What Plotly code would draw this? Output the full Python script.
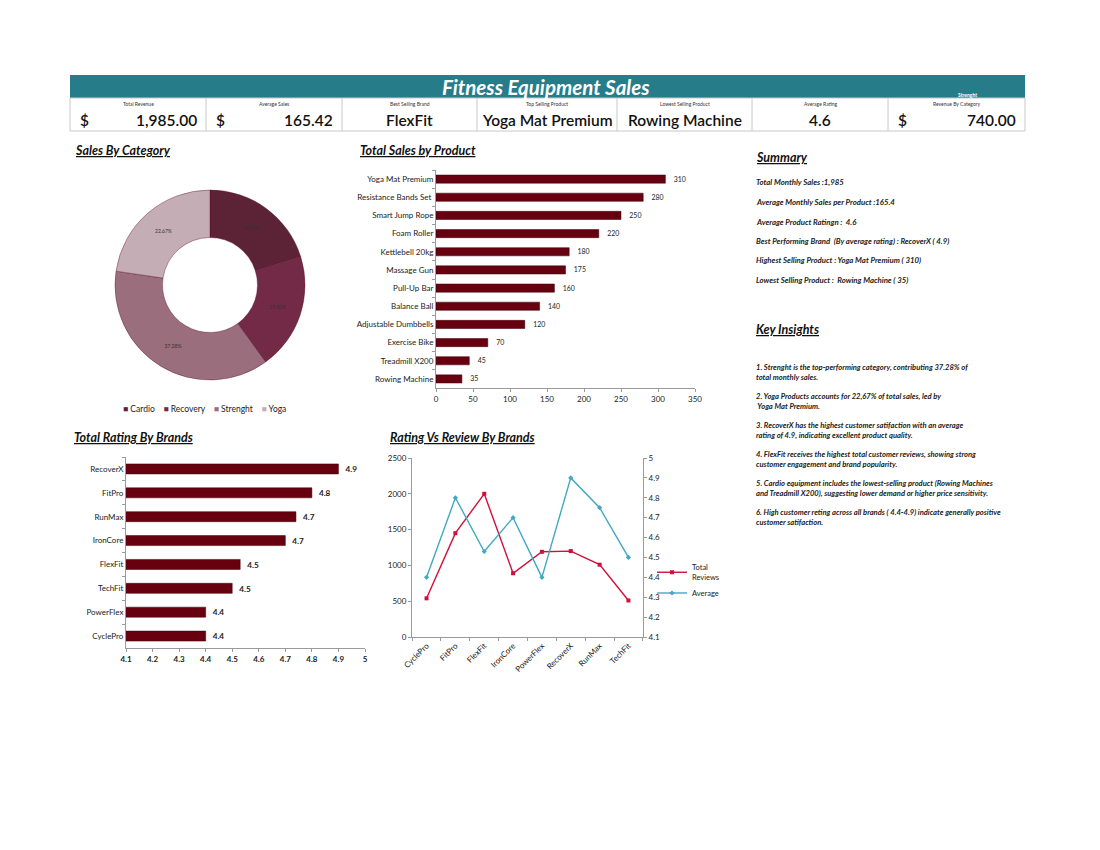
import plotly.graph_objects as go

# ---------------- data ----------------
kpi_labels = ["Total Revenue", "Average Sales", "Best Selling Brand", "Top Selling Product",
              "Lowest Selling Product", "Average Rating", "Revenue By Category"]
kpi_values = ["1,985.00", "165.42", "FlexFit", "Yoga Mat Premium", "Rowing Machine", "4.6", "740.00"]
kpi_dollar = [True, True, False, False, False, False, True]

categories = ["Cardio", "Recovery", "Strenght", "Yoga"]
category_sales = [400, 395, 740, 450]

products = ["Yoga Mat Premium", "Resistance Bands Set ", "Smart Jump Rope", "Foam Roller",
            "Kettlebell 20kg", "Massage Gun", "Pull-Up Bar", "Balance Ball",
            "Adjustable Dumbbells", "Exercise Bike", "Treadmill X200", "Rowing Machine"]
product_sales = [310, 280, 250, 220, 180, 175, 160, 140, 120, 70, 45, 35]

rating_brands = ["RecoverX", "FitPro", "RunMax", "IronCore", "FlexFit", "TechFit", "PowerFlex", "CyclePro"]
rating_values = [4.9, 4.8, 4.74, 4.7, 4.53, 4.5, 4.4, 4.4]

rating_ticks = [4.1, 4.2, 4.3, 4.4, 4.5, 4.6, 4.7, 4.8, 4.9, 5.0]
rating_ticktext = ["4.1", "4.2", "4.3", "4.4", "4.5", "4.6", "4.7", "4.8", "4.9", "5"]

line_brands = ["CyclePro", "FitPro", "FlexFit", "IronCore", "PowerFlex", "RecoverX", "RunMax", "TechFit"]
total_reviews = [540, 1450, 2000, 890, 1190, 1200, 1010, 510]
avg_rating = [4.4, 4.8, 4.53, 4.7, 4.4, 4.9, 4.75, 4.5]

summary_lines = [
    "Total Monthly Sales :1,985",
    "Average Monthly Sales per Product :165.4",
    "Average Product Ratingn :  4.6",
    "Best Performing Brand  (By average rating) : RecoverX ( 4.9)",
    "Highest Selling Product : Yoga Mat Premium ( 310)",
    "Lowest Selling Product :  Rowing Machine ( 35)",
]
insights = [
    "1. Strenght is the top-performing category, contributing 37.28% of<br>total monthly sales.",
    "2. Yoga Products accounts for 22,67% of total sales, led by<br> Yoga Mat Premium.",
    "3. RecoverX has the highest customer satifaction with an average<br>rating of 4.9, indicating excellent product quality.",
    "4. FlexFit receives the highest total customer reviews, showing strong<br>customer engagement and brand popularity.",
    "5. Cardio equipment includes the lowest-selling product (Rowing Machines<br>and Treadmill X200), suggesting lower demand or higher price sensitivity.",
    "6. High customer reting across all brands ( 4.4-4.9) indicate generally positive<br>customer satifaction.",
]

# ---------------- style ----------------
W, H = 1100, 850
FONT = "Lato, 'Open Sans', sans-serif"
TEAL = "#267c89"
MAROON = "#67000f"
PIE_COLORS = ["#5c2236", "#722a46", "#9a6e7c", "#c5adb6"]
RED = "#d0103a"
BLUE = "#40a9bf"
AX = "#9a9a9a"
TXT = "#222222"


def px(x):
    return x / W


def py(y):
    return 1 - y / H


fig = go.Figure()

# donut
fig.add_trace(go.Pie(
    labels=categories, values=category_sales, hole=0.5, sort=False,
    direction="clockwise", rotation=0,
    marker=dict(colors=PIE_COLORS, line=dict(color="#5a0a1e", width=0.4)),
    texttemplate="%{percent:.2%}", textposition="inside",
    insidetextorientation="horizontal",
    textfont=dict(size=5, color="#333"),
    domain=dict(x=[px(115), px(305)], y=[py(380), py(190)]),
    showlegend=False,
))

# product bars
fig.add_trace(go.Bar(
    y=products, x=product_sales, orientation="h", width=0.45,
    marker=dict(color=MAROON, line=dict(color="#3a0008", width=0.5)),
    texttemplate="\u00a0\u00a0\u00a0%{x}", textposition="outside",
    textfont=dict(size=8.5, color=TXT), cliponaxis=False,
    xaxis="x", yaxis="y", showlegend=False,
))

# rating bars
fig.add_trace(go.Bar(
    y=rating_brands, x=rating_values, orientation="h", width=0.42,
    marker=dict(color=MAROON, line=dict(color="#3a0008", width=0.5)),
    texttemplate="\u00a0\u00a0%{x:.1f}", textposition="outside",
    textfont=dict(size=9, color=TXT, weight="bold"), cliponaxis=False,
    xaxis="x2", yaxis="y2", showlegend=False,
))

# line chart
fig.add_trace(go.Scatter(
    x=line_brands, y=total_reviews, mode="lines+markers", name="Total<br>Reviews",
    line=dict(color=RED, width=1.4), marker=dict(symbol="square", size=4, color=RED),
    xaxis="x3", yaxis="y3",
))
fig.add_trace(go.Scatter(
    x=line_brands, y=avg_rating, mode="lines+markers", name="Average",
    line=dict(color=BLUE, width=1.4), marker=dict(symbol="diamond", size=4, color=BLUE),
    xaxis="x3", yaxis="y4",
))

axis_common = dict(showgrid=False, zeroline=False, showline=True, linecolor=AX, linewidth=1,
                   ticks="outside", tickcolor=AX, ticklen=3, tickfont=dict(size=8, color=TXT),
                   automargin=False)

fig.update_layout(
    width=W, height=H, margin=dict(l=0, r=0, t=0, b=0, pad=0, autoexpand=False),
    paper_bgcolor="white", plot_bgcolor="white",
    font=dict(family=FONT, color=TXT),
    xaxis=dict(domain=[px(436), px(695)], anchor="y", range=[0, 350], dtick=50, **axis_common),
    yaxis=dict(domain=[py(388), py(170)], anchor="x", autorange="reversed",
               tickson="boundaries", **axis_common),
    xaxis2=dict(domain=[px(126), px(365)], anchor="y2", range=[4.1, 5],
                tickvals=rating_ticks, ticktext=rating_ticktext, **axis_common),
    yaxis2=dict(domain=[py(648), py(457)], anchor="x2", autorange="reversed",
                tickson="boundaries", **axis_common),
    xaxis3=dict(domain=[px(412), px(643)], anchor="y3", tickangle=-45, tickson="boundaries",
                **axis_common),
    yaxis3=dict(domain=[py(637), py(458)], anchor="x3", range=[0, 2500], dtick=500, **axis_common),
    yaxis4=dict(overlaying="y3", side="right", anchor="x3", range=[4.1, 5],
                tickvals=rating_ticks, ticktext=rating_ticktext, **axis_common),
    legend=dict(x=px(652), y=py(556), xanchor="left", yanchor="top",
                font=dict(size=7.5, color=TXT), bgcolor="rgba(0,0,0,0)",
                tracegroupgap=6, itemwidth=30),
)
fig.update_xaxes(selector=dict(anchor="y2"), tickfont=dict(size=8, color=TXT, weight="bold"))

shapes = []
annotations = []

# header bar
shapes.append(dict(type="rect", xref="paper", yref="paper", x0=px(70), x1=px(1025),
                   y0=py(98), y1=py(75), fillcolor=TEAL, line=dict(width=0)))
annotations.append(dict(x=px(546), y=py(87), xref="paper", yref="paper", showarrow=False,
                        text="<b><i>Fitness Equipment Sales</i></b>",
                        font=dict(size=20.5, color="white", family=FONT), xanchor="center", yanchor="middle"))
annotations.append(dict(x=px(967), y=py(95.5), xref="paper", yref="paper", showarrow=False,
                        text="<b>Strenght</b>", font=dict(size=5, color="white", family=FONT),
                        xanchor="center", yanchor="middle"))

# KPI row
edges = [70, 206, 342, 477, 617, 752, 888, 1025]
shapes.append(dict(type="rect", xref="paper", yref="paper", x0=px(70), x1=px(1025),
                   y0=py(131), y1=py(98), fillcolor="rgba(0,0,0,0)", line=dict(color="#c8c8c8", width=1)))
for e in edges[1:-1]:
    shapes.append(dict(type="line", xref="paper", yref="paper", x0=px(e), x1=px(e),
                       y0=py(131), y1=py(98), line=dict(color="#c8c8c8", width=1)))
KF = dict(size=15.5, color="#111", family=FONT, weight=600)
for i, (lab, val, dol) in enumerate(zip(kpi_labels, kpi_values, kpi_dollar)):
    x0, x1 = edges[i], edges[i + 1]
    cx = (x0 + x1) / 2
    annotations.append(dict(x=px(cx), y=py(104), xref="paper", yref="paper", showarrow=False,
                            text=lab, font=dict(size=5, color="#333", family=FONT),
                            xanchor="center", yanchor="middle"))
    if dol:
        annotations.append(dict(x=px(x0 + 8), y=py(120), xref="paper", yref="paper", showarrow=False,
                                text="$", font=KF, xanchor="left", yanchor="middle"))
        annotations.append(dict(x=px(x1 - 7), y=py(120), xref="paper", yref="paper", showarrow=False,
                                text=val, font=KF, xanchor="right", yanchor="middle"))
    else:
        annotations.append(dict(x=px(cx), y=py(120), xref="paper", yref="paper", showarrow=False,
                                text=val, font=KF, xanchor="center", yanchor="middle"))

# section titles
def title(x, y, t):
    annotations.append(dict(x=px(x), y=py(y), xref="paper", yref="paper", showarrow=False,
                            text=f"<b><i><u>{t}</u></i></b>", font=dict(size=12.5, color="#111", family=FONT),
                            xanchor="left", yanchor="middle"))


title(73, 150, "Sales By Category")
title(358, 151, "Total Sales by Product")
title(754, 157, "Summary")
title(754, 329, "Key Insights")
title(72, 437, "Total Rating By Brands")
title(388, 437, "Rating Vs Review By Brands")

# donut legend
leg = "\u00a0\u00a0\u00a0\u00a0".join(
    f'<span style="color:{c}">■</span>\u00a0{n}' for n, c in zip(categories, PIE_COLORS))
annotations.append(dict(x=px(204), y=py(409), xref="paper", yref="paper", showarrow=False,
                        text=leg, font=dict(size=8.5, color=TXT, family=FONT),
                        xanchor="center", yanchor="middle"))

# summary text
sum_y = [182, 202, 222, 241, 260, 280]
for t, y in zip(summary_lines, sum_y):
    annotations.append(dict(x=px(754), y=py(y), xref="paper", yref="paper", showarrow=False,
                            text=f"<b><i>{t}</i></b>", font=dict(size=7.8, color=TXT, family=FONT),
                            xanchor="left", yanchor="middle"))
ins_y = [372, 401, 430, 459, 488, 517]
for t, y in zip(insights, ins_y):
    annotations.append(dict(x=px(754), y=py(y), xref="paper", yref="paper", showarrow=False,
                            text=f"<b><i>{t}</i></b>", font=dict(size=7.6, color=TXT, family=FONT),
                            xanchor="left", yanchor="middle", align="left"))

fig.update_layout(shapes=shapes, annotations=annotations)
fig.write_html("out.html",
               post_script="document.body.style.margin='0';document.body.style.overflow='hidden';")
